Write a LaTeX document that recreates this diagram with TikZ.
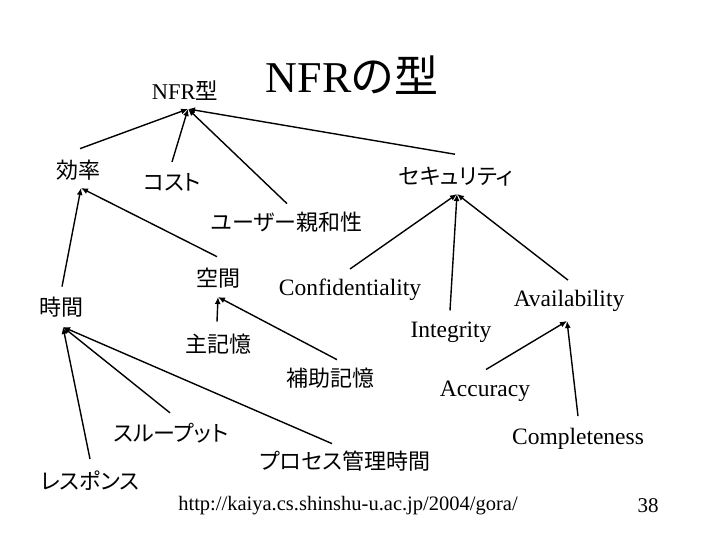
\documentclass[tikz,border=0pt]{standalone}
\usepackage{fontspec}
\setmainfont{Liberation Serif}
\newfontfamily\cjk[RawFeature=+palt]{Noto Sans CJK JP}
\usetikzlibrary{arrows.meta}
\begin{document}
\begin{tikzpicture}[x=1pt,y=-1pt,
  lat/.style={inner sep=0pt,font=\fontsize{23.5}{26}\selectfont},
  jp/.style={inner sep=0pt,font=\fontsize{22}{26}\selectfont\cjk},
  link/.style={line width=1.4pt,-{Latex[length=7pt,width=6pt]}}]
\useasboundingbox[fill=white] (0,0) rectangle (720,540);

\node[inner sep=0pt,font=\fontsize{44}{48}\selectfont] (title) at (352,75) {NFR{\cjk の型}};
\node[inner sep=0pt,font=\fontsize{22.5}{26}\selectfont] (nfr) at (185,91) {NFR{\cjk 型}};
\node[jp] (eff) at (78,170) {効率};
\node[jp] (cost) at (172,182) {コスト};
\node[jp] (usab) at (287,222) {ユーザー親和性};
\node[jp] (sec) at (456,177) {セキュリティ};
\node[lat] (conf) at (350,290) {Confidentiality};
\node[lat] (integ) at (451,332) {Integrity};
\node[lat] (avail) at (569,301) {Availability};
\node[lat] (acc) at (485,391) {Accuracy};
\node[lat] (comp) at (578,439) {Completeness};
\node[jp] (time) at (61,307) {時間};
\node[jp] (space) at (218,278) {空間};
\node[jp] (mainm) at (218,344) {主記憶};
\node[jp] (aux) at (330,378) {補助記憶};
\node[jp] (thru) at (171,433) {スループット};
\node[jp] (resp) at (90,481) {レスポンス};
\node[jp] (proc) at (345,461) {プロセス管理時間};
\node[inner sep=0pt,font=\fontsize{20.5}{24}\selectfont] (url) at (348,506) {http://kaiya.cs.shinshu-u.ac.jp/2004/gora/};
\node[inner sep=0pt,font=\fontsize{21}{24}\selectfont] (page) at (648,506) {38};

\coordinate (nfr-p) at (188,109);
\coordinate (sec-p) at (457,194);
\coordinate (avail-p) at (567,321);
\coordinate (eff-p) at (81,188);
\coordinate (time-p) at (63,327);
\coordinate (space-p) at (218,297);

\draw[link] ([xshift=2pt,yshift=11pt]eff.north) -- (nfr-p);
\draw[link] ([yshift=11pt]cost.north) -- (nfr-p);
\draw[link] ([yshift=8pt]usab.north) -- (nfr-p);
\draw[link] ([xshift=-1pt,yshift=13pt]sec.north) -- (nfr-p);
\draw[link] ([yshift=10pt]conf.north) -- (sec-p);
\draw[link] ([xshift=-1pt,yshift=11pt]integ.north) -- (sec-p);
\draw[link] ([xshift=-1pt,yshift=10pt]avail.north) -- (sec-p);
\draw[link] ([xshift=1pt,yshift=11pt]acc.north) -- (avail-p);
\draw[link] ([yshift=12pt]comp.north) -- (avail-p);
\draw[link] ([xshift=1pt,yshift=10pt]time.north) -- (eff-p);
\draw[link] ([xshift=-1pt,yshift=11pt]space.north) -- (eff-p);
\draw[link] ([xshift=-1pt,yshift=12pt]mainm.north) -- (space-p);
\draw[link] ([xshift=7pt,yshift=8pt]aux.north) -- (space-p);
\draw[link] ([xshift=-1pt,yshift=10pt]thru.north) -- (time-p);
\draw[link] ([yshift=12pt]resp.north) -- (time-p);
\draw[link] ([xshift=-13pt,yshift=7pt]proc.north) -- (time-p);
\end{tikzpicture}
\end{document}
